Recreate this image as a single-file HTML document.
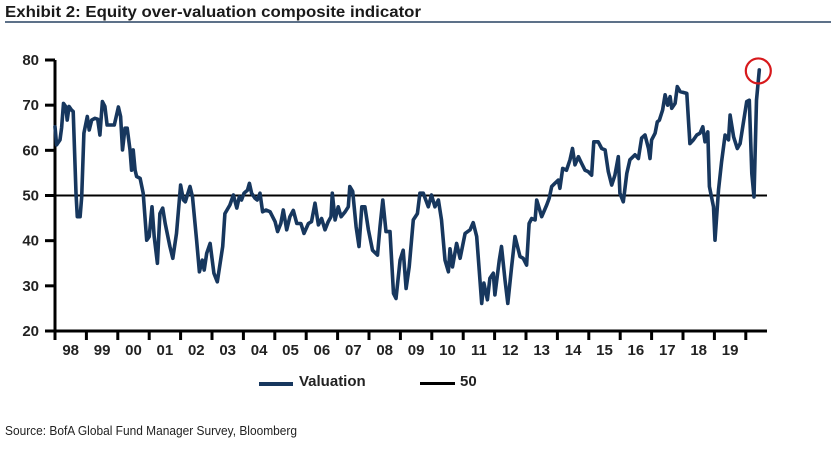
<!DOCTYPE html>
<html><head><meta charset="utf-8"><style>
html,body{margin:0;padding:0;background:#fff;}
svg{display:block;font-family:"Liberation Sans",sans-serif;}
</style></head><body>
<svg id="chart" width="831" height="459" viewBox="0 0 831 459">
<text x="5" y="17" font-size="16" font-weight="bold" fill="#1a1a1a" textLength="416" lengthAdjust="spacingAndGlyphs">Exhibit 2: Equity over-valuation composite indicator</text>
<rect x="5" y="21" width="826" height="2" fill="#5d7189"/>
<g id="plot"></g>
<g>
<g><rect x="259" y="382" width="34" height="4" fill="#17375e"/><text x="299" y="386" font-size="15" font-weight="bold" fill="#222">Valuation</text></g>
<g><rect x="420" y="382" width="35" height="3" fill="#000"/><text x="460" y="386" font-size="15" font-weight="bold" fill="#222">50</text></g>
</g>
<text x="5" y="435" font-size="12.5" fill="#222" textLength="292" lengthAdjust="spacingAndGlyphs">Source: BofA Global Fund Manager Survey, Bloomberg</text>
</svg>
<script>
const yearLabels=["98","99","00","01","02","03","04","05","06","07","08","09","10","11","12","13","14","15","16","17","18","19"];
const yTicks=[20,30,40,50,60,70,80];
const refLevel=50;
const tYears=[0,.05,.16,.21,.27,.34,.39,.45,.53,.58,.67,.71,.80,.85,.92,1.03,1.09,1.17,1.27,1.36,1.43,1.51,1.59,1.66,1.89,2.02,2.09,2.15,2.23,2.30,2.39,2.44,2.49,2.55,2.60,2.71,2.81,2.92,3.00,3.09,3.16,3.26,3.34,3.43,3.51,3.66,3.75,3.87,4.00,4.09,4.15,4.30,4.38,4.51,4.60,4.69,4.75,4.83,4.94,5.06,5.17,5.34,5.41,5.57,5.68,5.79,5.87,5.94,6.02,6.13,6.19,6.26,6.37,6.44,6.53,6.61,6.72,6.85,7.01,7.09,7.19,7.27,7.38,7.48,7.59,7.70,7.83,7.93,8.07,8.17,8.28,8.39,8.49,8.60,8.70,8.79,8.83,8.92,9.02,9.11,9.24,9.34,9.39,9.48,9.59,9.68,9.77,9.87,9.98,10.11,10.27,10.35,10.44,10.54,10.67,10.78,10.86,10.99,11.09,11.18,11.28,11.41,11.54,11.62,11.73,11.89,11.99,12.10,12.21,12.31,12.42,12.53,12.58,12.66,12.79,12.90,13.06,13.22,13.32,13.43,13.59,13.66,13.77,13.85,13.96,14.01,14.15,14.22,14.33,14.42,14.54,14.65,14.81,14.91,15.02,15.10,15.18,15.29,15.34,15.50,15.66,15.74,15.82,15.92,16.03,16.08,16.17,16.29,16.40,16.48,16.56,16.67,16.77,16.88,16.98,17.09,17.16,17.30,17.41,17.52,17.62,17.73,17.83,17.94,17.99,18.10,18.21,18.31,18.47,18.58,18.68,18.79,18.90,18.95,19.00,19.11,19.18,19.25,19.35,19.43,19.51,19.59,19.64,19.75,19.82,19.91,20.12,20.22,20.33,20.44,20.54,20.63,20.70,20.79,20.84,20.97,21.02,21.13,21.23,21.34,21.45,21.50,21.61,21.73,21.82,21.92,22.03,22.11,22.19,22.26,22.34,22.43];
const valuation=[65.2,61.2,62.3,65,70.4,69.7,66.7,69.7,68.9,68.6,50.5,45.3,45.3,49.7,63.8,67.5,64.5,66.7,67.1,66.9,63.4,70.8,69.7,65.6,65.6,69.6,67.5,60.1,64.9,64.9,60.1,55.6,60.1,55.6,54.2,53.8,50.5,40.1,40.9,47.5,40.9,35,46,47.2,43.8,38.7,36.1,41.6,52.3,49,48.6,52,49.7,40.1,33.1,35.7,33.5,37.2,39.4,32.8,30.9,38.7,46,47.9,50.1,47.2,49.7,49,50.5,51.2,52.7,50.5,49.4,49,50.5,46.4,46.8,46.4,44.2,42,43.8,46.8,42.4,45.3,46.7,43.8,43.8,41.6,43.8,44.2,48.3,43.5,44.9,42.4,44.2,45.3,50.5,44.6,47.5,45.3,46.4,47.5,52,50.9,43.1,38.7,47.5,47.5,42.4,37.9,36.8,43.1,49,42,42,28.3,27.2,35.7,37.9,29.4,34.2,44.6,46,50.5,50.5,47.5,50.1,47.5,49,44.6,35.7,33.1,38.2,34.2,39.4,36.1,41.6,42.4,44,40.9,26.1,30.6,26.9,31.7,32.8,28,35.7,38.7,31.3,26.1,34.2,40.9,36.5,36.1,34.6,43.8,44.9,44.6,49,45.3,47.9,49.4,52,52.7,53.4,51.6,56,55.6,57.9,60.4,56.8,58.6,57.1,55.6,55.3,54.5,61.9,61.9,60.4,60.1,55.3,52.3,54.5,58.6,50.5,48.6,54.9,57.9,59,58.2,62.7,63.4,60.4,58.2,62.3,63.8,66.3,66.7,68.9,72.3,70,71.9,69.3,70.4,74.1,73,72.6,61.5,62.3,63.4,63.8,65.2,61.9,64.1,52,47.5,40.1,51.2,57.5,63.4,62.3,67.8,63,60.4,61.5,66,70.8,71.1,54.9,49.7,71.1,77.8];

const NS="http://www.w3.org/2000/svg";
const X0=55,PXY=31.4,XEND=767,YTOP=60,YBOT=331,VMAX=80,VMIN=20;
function xs(t){return X0+t*PXY;}
function ys(v){return YTOP+(VMAX-v)*(YBOT-YTOP)/(VMAX-VMIN);}
const plot=document.getElementById('plot');
function mk(tag,attrs,parent){const e=document.createElementNS(NS,tag);for(const k in attrs)e.setAttribute(k,attrs[k]);(parent||plot).appendChild(e);return e;}

// y axis
const ya=mk('line',{x1:X0,y1:YTOP,x2:X0,y2:YBOT+8,stroke:'#000','stroke-width':3});


yTicks.forEach(v=>{
  const tk=mk('line',{x1:X0-10,y1:ys(v),x2:X0,y2:ys(v),stroke:'#000','stroke-width':3});
  
  
  const tl=mk('text',{x:X0-16,y:ys(v)+5,'font-size':15,'font-weight':'bold',fill:'#222','text-anchor':'end'});
  tl.textContent=v;
  
  
});
// x axis
const xa=mk('line',{x1:X0,y1:YBOT,x2:XEND,y2:YBOT,stroke:'#000','stroke-width':3});


yearLabels.forEach((lab,i)=>{
  const tk=mk('line',{x1:xs(i),y1:YBOT,x2:xs(i),y2:YBOT+9,stroke:'#000','stroke-width':3});
  
  
  const tl=mk('text',{x:xs(i+0.5),y:YBOT+24,'font-size':15,'font-weight':'bold',fill:'#222','text-anchor':'middle'});
  tl.textContent=lab;
  
  
});
const lastTick=mk('line',{x1:xs(yearLabels.length),y1:YBOT,x2:xs(yearLabels.length),y2:YBOT+9,stroke:'#000','stroke-width':3});


// reference line
const ref=mk('line',{x1:X0,y1:ys(refLevel),x2:XEND,y2:ys(refLevel),stroke:'#000','stroke-width':2});


// series
const d=tYears.map((t,i)=>(i?'L':'M')+xs(t).toFixed(1)+','+ys(valuation[i]).toFixed(1)).join('');
const ln=mk('path',{d:d,fill:'none',stroke:'#17375e','stroke-width':3.6,'stroke-linejoin':'round','stroke-linecap':'round'});


// highlight circle on last point
const li=tYears.length-1;
const c=mk('circle',{cx:xs(tYears[li])-1,cy:ys(valuation[li])+1,r:12.5,fill:'none',stroke:'#d7191c','stroke-width':2.2});


</script>
</body></html>
